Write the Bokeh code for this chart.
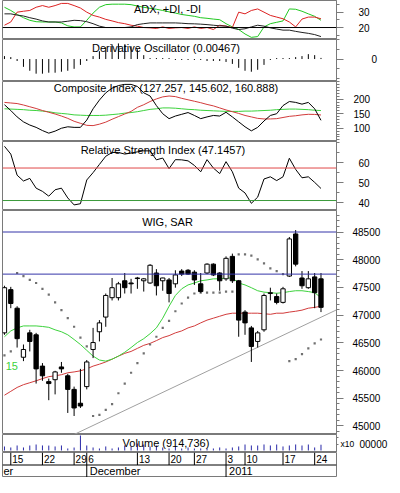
from bokeh.plotting import figure
from bokeh.models import Span, Label, FixedTicker, ColumnDataSource, Range1d, LinearAxis
from bokeh.layouts import column
from bokeh.embed import file_html
from bokeh.resources import INLINE
from bokeh.core.properties import value

# ---------------- data ----------------
days = list(range(51))
day_ticks = [1, 6, 11, 13, 21, 26, 30, 35, 38, 44, 49]
day_labels = ["15", "22", "29", "6", "13", "20", "27", "3", "10", "17", "24"]
month_starts = [-0.31, 13, 35]
month_labels = ["er", "December", "2011"]

wig_open = [46680, 47460, 47125, 46240, 46680, 46645, 46080, 45800, 45835, 46065, 45905, 45660, 45410, 45710,
            46380, 46700, 46965, 47315, 47315, 47620, 47580, 47670, 47620, 47580, 47760, 47620, 47635, 47565,
            47795, 47810, 47775, 47565, 47760, 47920, 47760, 47655, 48060, 47620, 47055, 46770, 46525, 46735,
            47390, 47335, 47230, 47705, 48465, 47670, 47495, 47690, 47655]
wig_close = [47495, 47210, 46575, 46380, 46525, 46030, 45905, 45765, 45975, 46030, 45660, 45325, 45360, 46155,
             46505, 46860, 47355, 47495, 47565, 47495, 47565, 47660, 47655, 47900, 47530, 47670, 47390, 47725,
             47740, 47740, 47635, 47425, 47920, 47725, 47620, 48025, 47620, 46910, 46860, 46435, 46680, 47355,
             47405, 47230, 47475, 48375, 47920, 47530, 47655, 47405, 47140]
wig_high = [47530, 47510, 47160, 46470, 46735, 46680, 46135, 45855, 45995, 46155, 45940, 45710, 46030, 46190,
            46770, 46910, 47390, 47670, 47600, 47760, 47655, 47690, 47670, 47920, 47830, 47675, 47670, 47810,
            47830, 47830, 47810, 47760, 47935, 47935, 47775, 48060, 48110, 47635, 47090, 46805, 46715, 47390,
            47495, 47390, 47510, 48410, 48535, 47795, 47795, 47760, 47760]
wig_low = [46645, 47125, 46415, 46170, 46345, 45765, 45815, 45465, 45570, 45960, 45235, 45180, 45325, 45660,
           46225, 46525, 46790, 47265, 47265, 47390, 47390, 47475, 47425, 47565, 47355, 47440, 47230, 47495,
           47705, 47725, 47545, 47405, 47740, 47705, 47440, 47620, 47580, 46610, 46645, 46155, 46415, 46700,
           47265, 47195, 47210, 47690, 47880, 47475, 47475, 47125, 47055]
wig_sar = [46275, 46345, 47760, 47705, 47635, 47580, 47475, 47370, 47230, 47090, 46945, 46790, 46595, 46435,
           45180, 45200, 45290, 45395, 45590, 45765, 45960, 46135, 46310, 46470, 46610, 46770, 46895, 47070,
           47210, 47315, 47390, 47405, 47405, 47405, 47405, 47425, 47425, 48095, 48095, 48075, 48005, 47935,
           47845, 47795, 47740, 46170, 46205, 46295, 46400, 46490, 46560]
wig_ma15 = [46610, 46715, 46770, 46805, 46805, 46805, 46795, 46780, 46735, 46700, 46645, 46560, 46470, 46365,
            46260, 46190, 46170, 46205, 46260, 46330, 46415, 46505, 46575, 46665, 46770, 46945, 47160, 47355,
            47475, 47545, 47580, 47620, 47635, 47655, 47655, 47670, 47670, 47580, 47545, 47495, 47440, 47415,
            47405, 47395, 47405, 47425, 47440, 47440, 47425, 47405, 47315]
wig_ma45 = [45555, 45625, 45695, 45745, 45780, 45815, 45855, 45890, 45905, 45925, 45960, 45975, 45995, 46030,
            46080, 46115, 46155, 46205, 46260, 46310, 46345, 46400, 46455, 46490, 46540, 46595, 46630, 46680,
            46715, 46770, 46805, 46860, 46910, 46945, 46980, 47015, 47035, 47035, 47035, 47035, 47035, 47025,
            47015, 47035, 47035, 47055, 47070, 47090, 47125, 47140, 47160]
wig_levels = [48500, 47740]
trend_x = [10.7, 52.45]
trend_y = [44830, 47095]
wig_ticks = [45000, 45500, 46000, 46500, 47000, 47500, 48000, 48500]

adx_pdi = [33.2, 31.1, 28.5, 26.4, 24.7, 23.8, 23.6, 23.6, 23.6, 23.0, 21.1, 20.4, 20.4, 24.7, 29.4, 33.2, 34.9,
           35.2, 35.2, 35.2, 34.9, 34.0, 33.2, 32.5, 31.9, 31.1, 30.2, 29.4, 28.5, 27.9, 27.3, 26.4, 26.0, 25.5,
           25.1, 22.5, 20.4, 18.7, 15.8, 13.6, 14.1, 20.4, 22.5, 23.4, 24.3, 32.1, 31.9, 30.6, 28.9, 27.3, 24.7]
adx_mdi = [21.5, 23.6, 30.0, 30.6, 31.1, 33.2, 34.3, 33.2, 34.3, 35.7, 35.7, 34.3, 32.7, 30.0, 27.9, 26.8, 25.3,
           24.3, 23.2, 22.5, 21.5, 20.9, 20.0, 19.8, 19.4, 20.4, 19.4, 19.8, 20.0, 19.4, 20.4, 19.4, 20.0, 18.7,
           21.5, 20.9, 20.0, 30.0, 28.9, 31.1, 32.1, 30.0, 27.9, 26.8, 25.7, 23.6, 20.4, 25.5, 26.8, 26.8, 25.7]
adx_line = [28.9, 28.9, 28.1, 27.5, 26.4, 25.5, 24.3, 23.6, 23.6, 23.6, 24.1, 24.7, 24.5, 23.8, 22.5, 20.9, 20.0,
            20.0, 20.0, 20.0, 20.4, 21.9, 22.5, 23.0, 23.0, 23.0, 23.0, 23.0, 22.8, 22.5, 22.4, 22.2, 21.9, 21.5,
            21.1, 20.9, 19.6, 18.7, 19.2, 20.4, 21.5, 20.9, 19.8, 19.0, 18.3, 18.3, 17.5, 16.8, 16.2, 15.4, 14.1]

deriv_osc = [0.012, 0.008, -0.008, -0.032, -0.048, -0.060, -0.060, -0.056, -0.056, -0.052, -0.048, -0.040,
             -0.024, -0.008, 0.012, 0.032, 0.048, 0.060, 0.064, 0.060, 0.052, 0.040, 0.016, 0.004, 0.004, 0.004,
             0.004, -0.004, -0.004, -0.004, -0.004, -0.004, -0.008, -0.008, -0.008, -0.012, -0.020, -0.036,
             -0.048, -0.052, -0.044, -0.024, -0.004, 0.004, 0.004, 0.004, 0.008, 0.012, 0.020, 0.016, 0.00467]

ci_line = [181, 161, 139, 122, 111, 103, 92, 83, 90, 100, 105, 103, 103, 128, 167, 197, 222, 238, 247, 251, 251,
           244, 222, 211, 178, 150, 133, 142, 148, 154, 144, 133, 139, 144, 142, 155, 139, 122, 105, 91, 103, 125,
           144, 150, 178, 192, 189, 183, 189, 167, 127.257]
ci_fast = [189, 187, 185, 180, 174, 168, 161, 155, 149, 142, 134, 124, 117, 110, 109, 114, 121, 131, 140, 149, 158,
           172, 181, 192, 201, 208, 211, 209, 203, 198, 193, 188, 182, 177, 170, 163, 157, 151, 144, 139, 134, 132,
           132, 133, 137, 141, 143, 146, 148, 147.5, 145.602]
ci_slow = [167, 166, 165, 164, 162, 161, 159, 157, 153, 151, 149, 146, 145, 144, 144, 144, 145, 147, 149, 152, 154,
           157, 161, 165, 167, 170, 170, 169, 167, 165, 164, 162, 161, 160, 159, 158, 158, 158, 159, 159, 160, 161,
           162, 164, 165, 166, 166, 165, 164, 162, 160.888]

rsi = [68.3, 64.4, 53.8, 50.9, 52.2, 47.3, 45.7, 43.3, 46.5, 47.3, 42.4, 38.9, 39.5, 51.4, 55.1, 59.2, 63.3, 65.2,
       65.2, 64.4, 64.9, 65.5, 66.0, 66.0, 61.5, 62.4, 57.1, 61.6, 61.5, 61.0, 58.7, 55.5, 61.6, 57.4, 54.6, 60.6,
       55.5, 47.3, 44.9, 39.7, 42.8, 51.9, 53.0, 51.1, 53.0, 62.3, 56.7, 52.5, 53.0, 50.2, 47.1457]
rsi_levels = [57.4, 41.1]

volume = [635000, 476000, 794000, 480000, 790000, 950000, 800000, 780000, 640000, 795000, 320000, 470000, 2380000,
          790000, 475000, 320000, 640000, 320000, 480000, 795000, 635000, 1110000, 950000, 640000, 795000, 480000,
          320000, 640000, 320000, 475000, 320000, 330000, 310000, 320000, 480000, 320000, 475000, 640000, 950000,
          795000, 790000, 955000, 795000, 950000, 640000, 795000, 955000, 790000, 950000, 480000, 914736]

# ---------------- styling ----------------
FW = 334
LB = 2
RB = 48
FONT = "Liberation Sans"
EDGE = "#7a7a7a"
GREEN = "#22c822"
RED = "#dd2222"
LGREEN = "#3cd23c"
LRED = "#d23c3c"
BLUE = "#3535a8"
xr = Range1d(-0.31, 52.45)


def style_axis(ax, standoff, tick_out=7, minor_out=3, size="10px"):
    ax.major_tick_out = tick_out
    ax.major_tick_in = 0
    ax.minor_tick_out = minor_out
    ax.minor_tick_in = 0
    ax.axis_line_color = EDGE
    ax.major_tick_line_color = EDGE
    ax.minor_tick_line_color = EDGE
    ax.major_label_text_font = FONT
    ax.major_label_text_font_size = size
    ax.major_label_text_color = "black"
    ax.major_label_standoff = standoff


def panel(h, y0, y1, ticks, minor, standoff):
    p = figure(frame_width=FW, frame_height=h, x_range=xr, y_range=Range1d(y0, y1),
               output_backend="svg", toolbar_location=None, y_axis_location="right",
               x_axis_location=None, min_border_left=LB, min_border_right=RB,
               min_border_top=0, min_border_bottom=0)
    p.grid.visible = False
    p.outline_line_color = EDGE
    p.background_fill_color = "white"
    p.border_fill_color = "white"
    ax = p.yaxis[0]
    ax.ticker = FixedTicker(ticks=ticks, minor_ticks=minor)
    style_axis(ax, standoff)
    return p


def title(p, h, text, off):
    p.add_layout(Label(x=FW / 2 - 2, y=h - off, x_units="screen", y_units="screen", text=text,
                       text_align="center", text_baseline="middle", text_font=FONT,
                       text_font_size="11px", text_color="black"))


H = [39, 42, 60, 69, 224, 18, 25]

# ADX
p1 = panel(H[0], 12.2, 37.6, [20, 30], [15, 25, 35], 15)
p1.add_layout(Span(location=20, dimension="width", line_color="black", line_width=1))
p1.line(days, adx_pdi, line_color=GREEN, line_width=1)
p1.line(days, adx_mdi, line_color=RED, line_width=1)
p1.line(days, adx_line, line_color="#222222", line_width=1)
title(p1, H[0], "ADX, +DI, -DI", 8.5)

# Derivative oscillator
p2 = panel(H[1], -0.092, 0.08, [0], [-0.08, -0.04, 0.04, 0.08], 28)
p2.segment(x0=days, y0=[0] * len(days), x1=days, y1=deriv_osc, line_color="black", line_width=1)
title(p2, H[1], "Derivative Oscillator  (0.00467)", 8.5)

# Composite index
p3 = panel(H[2], 54.3, 261, [100, 150, 200], list(range(60, 261, 10)), 10)
p3.line(days, ci_slow, line_color=LGREEN, line_width=1)
p3.line(days, ci_fast, line_color=LRED, line_width=1)
p3.line(days, ci_line, line_color="black", line_width=1)
title(p3, H[2], "Composite Index  (127.257, 145.602, 160.888)", 6)

# RSI
p4 = panel(H[3], 36.1, 70.7, [40, 50, 60], [40, 45, 50, 55, 60, 65, 70], 15)
p4.add_layout(Span(location=rsi_levels[0], dimension="width", line_color="#e04848", line_width=1))
p4.add_layout(Span(location=rsi_levels[1], dimension="width", line_color="#3a9a3a", line_width=1))
p4.line(days, rsi, line_color="black", line_width=1)
title(p4, H[3], "Relative  Strength  Index  (47.1457)", 8)

# WIG with SAR
p5 = panel(H[4], 44846, 48888, wig_ticks, list(range(44900, 48900, 100)), 9)
for lv in wig_levels:
    p5.add_layout(Span(location=lv, dimension="width", line_color=BLUE, line_width=1))
p5.line(trend_x, trend_y, line_color="#a0a0a0", line_width=1)
p5.line(days, wig_ma45, line_color=LRED, line_width=1)
p5.line(days, wig_ma15, line_color=LGREEN, line_width=1)
p5.scatter(days, wig_sar, marker="square", size=2.2, fill_color="#707070", line_color=None)
src = ColumnDataSource(dict(
    x=days, high=wig_high, low=wig_low,
    top=[max(o, c) for o, c in zip(wig_open, wig_close)],
    bottom=[min(o, c) for o, c in zip(wig_open, wig_close)],
    fill=["white" if c >= o else "black" for o, c in zip(wig_open, wig_close)],
))
p5.segment(x0="x", y0="high", x1="x", y1="low", source=src, line_color="black", line_width=1)
p5.vbar(x="x", top="top", bottom="bottom", width=0.68, fill_color="fill", line_color="black",
        line_width=1, source=src)
p5.add_layout(Label(x=0.2, y=46080, text="15", text_color=LGREEN, text_baseline="middle",
                    text_font=FONT, text_font_size="11px"))
title(p5, H[4], "WIG, SAR", 11)

# Volume
vol_tick = 1000000
p6 = panel(H[5], -320000, 2540000, [vol_tick], [2000000], 2)
ax6 = p6.yaxis[0]
ax6.major_tick_out = 2
ax6.minor_tick_out = 2
ax6.major_label_text_font_size = "8.5px"
ax6.major_label_overrides = {vol_tick: "x10"}
ax6b = LinearAxis(ticker=FixedTicker(ticks=[vol_tick], minor_ticks=[]))
style_axis(ax6b, 2, tick_out=0, minor_out=0)
ax6b.axis_line_color = None
ax6b.major_tick_line_color = None
ax6b.minor_tick_line_color = None
ax6b.major_label_overrides = {vol_tick: "00000"}
p6.add_layout(ax6b, "right")
p6.segment(x0=days, y0=[0] * len(days), x1=days, y1=volume, line_color="#2828a8", line_width=1)
title(p6, H[5], "Volume  (914,736)", 8.5)

# Date rows
p7 = figure(frame_width=FW, frame_height=H[6], x_range=xr, y_range=Range1d(0, 2),
            output_backend="svg", toolbar_location=None, x_axis_location=None, y_axis_location=None,
            min_border_left=LB, min_border_right=RB, min_border_top=0, min_border_bottom=0)
p7.grid.visible = False
p7.outline_line_color = EDGE
p7.add_layout(Span(location=1, dimension="width", line_color="black", line_width=1))
p7.segment(x0=day_ticks, y0=[1] * len(day_ticks), x1=day_ticks, y1=[2] * len(day_ticks),
           line_color="black", line_width=1)
p7.text(x=day_ticks, y=[1.5] * len(day_ticks), text=day_labels, x_offset=1.5, text_baseline="middle",
        text_font=value(FONT), text_font_size="10px", text_color="black")
p7.segment(x0=month_starts[1:], y0=[0] * 2, x1=month_starts[1:], y1=[1] * 2,
           line_color="black", line_width=1)
p7.text(x=month_starts, y=[0.5] * len(month_starts), text=month_labels, x_offset=[1, 3, 3],
        text_baseline="middle", text_font=value(FONT), text_font_size="11px", text_color="black")

layout = column(p1, p2, p3, p4, p5, p6, p7, spacing=0)
open("out.html", "w").write(file_html(layout, INLINE))
